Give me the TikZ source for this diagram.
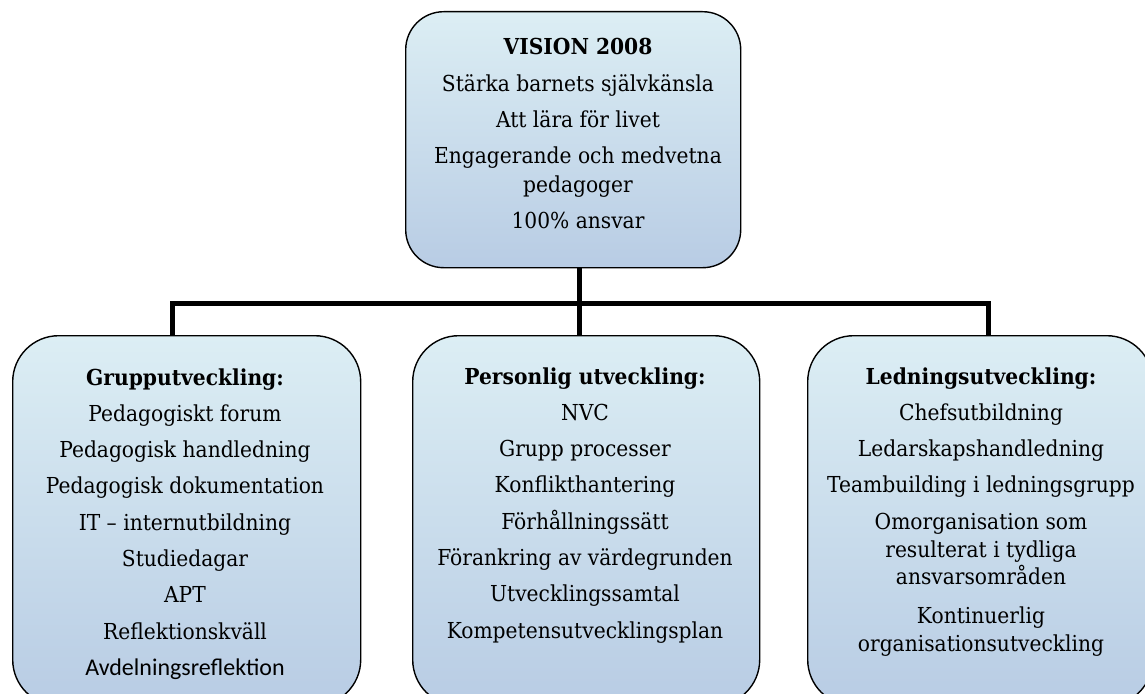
\documentclass[tikz,border=0pt]{standalone}
\usepackage{fontspec}
\setmainfont{DejaVu Serif}[FakeStretch=0.92]
\newfontfamily\calfont{Carlito}
\begin{document}
\begin{tikzpicture}[x=1pt,y=-1pt,
  box/.style={draw=black, line width=1.4pt, top color=boxtop, bottom color=boxbot, anchor=north west, inner sep=0pt},
  txt/.style={anchor=base, inner sep=0pt, font=\fontsize{22}{36.3}\selectfont, text=black},
  conn/.style={draw=black, line width=5pt}]
\definecolor{boxtop}{HTML}{DCEEF4}
\definecolor{boxbot}{HTML}{B8CCE4}
\useasboundingbox (0,0) rectangle (1145,693);
\clip (0,0) rectangle (1145,693);
\fill[white] (0,0) rectangle (1145,693);
% boxes
\node[box, minimum width=335, minimum height=256, rounded corners=38] (top) at (405,11) {};
\node[box, minimum width=348, minimum height=370, rounded corners=46] (grp) at (12,335) {};
\node[box, minimum width=347, minimum height=370, rounded corners=46] (pers) at (412,335) {};
\node[box, minimum width=345, minimum height=370, rounded corners=46] (led) at (807,335) {};
% connectors
\coordinate (jm) at (579,303);
\coordinate (jl) at (172,303);
\coordinate (jr) at (988,303);
\draw[conn] (jm |- top.south) -- (jm);
\draw[conn, line cap=rect] (jl) -- (jr);
\draw[conn] (jl) -- (jl |- grp.north);
\draw[conn] (jm) -- (jm |- pers.north);
\draw[conn] (jr) -- (jr |- led.north);
% texts
\node[txt] (toptext) at (578,55) {\begin{tabular}[t]{@{}c@{}}
\textbf{VISION 2008}\\
Stärka barnets självkänsla\\
Att lära för livet\\
Engagerande och medvetna\\[-8pt]
pedagoger\\
100\% ansvar
\end{tabular}};
\node[txt] (grptext) at (185,385) {\begin{tabular}[t]{@{}c@{}}
\textbf{Grupputveckling:}\\
Pedagogiskt forum\\
Pedagogisk handledning\\
Pedagogisk dokumentation\\
IT – internutbildning\\
Studiedagar\\
APT\\
Reflektionskväll\\
{\calfont\fontsize{24}{36.3}\selectfont Avdelningsreflektion}
\end{tabular}};
\node[txt] (perstext) at (585,384) {\begin{tabular}[t]{@{}c@{}}
\textbf{Personlig utveckling:}\\
NVC\\
Grupp processer\\
Konflikthantering\\
Förhållningssätt\\
Förankring av värdegrunden\\
Utvecklingssamtal\\
Kompetensutvecklingsplan
\end{tabular}};
\node[txt] (ledtext) at (981,384) {\begin{tabular}[t]{@{}c@{}}
\textbf{Ledningsutveckling:}\\
Chefsutbildning\\
Ledarskapshandledning\\
Teambuilding i ledningsgrupp\\
Omorganisation som\\[-8.5pt]
resulterat i tydliga\\[-8.5pt]
ansvarsområden\\[2.5pt]
Kontinuerlig\\[-8.5pt]
organisationsutveckling
\end{tabular}};
\end{tikzpicture}
\end{document}
